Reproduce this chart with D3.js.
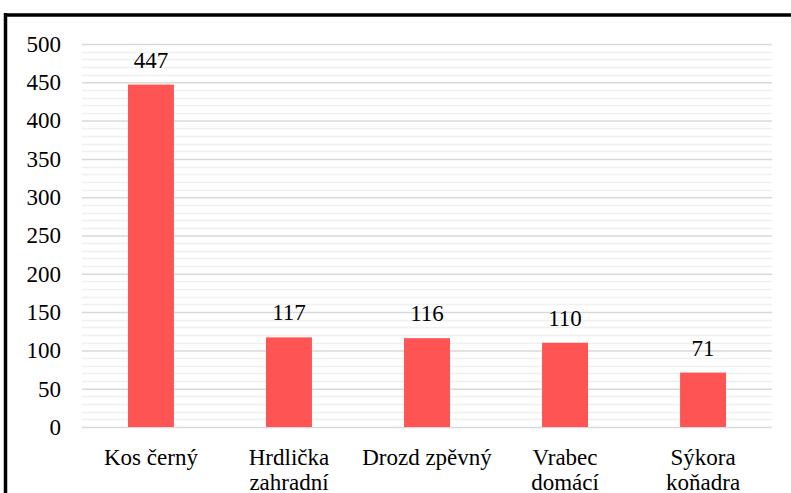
<!DOCTYPE html>
<html>
<head>
<meta charset="utf-8">
<script src="https://cdn.jsdelivr.net/npm/d3@7"></script>
<style>
  body { margin: 0; background: #fff; }
  svg { display: block; }
</style>
</head>
<body>
<svg width="791" height="493"></svg>
<script>
// bird counts
const categories = [["Kos černý"], ["Hrdlička", "zahradní"], ["Drozd zpěvný"], ["Vrabec", "domácí"], ["Sýkora", "koňadra"]];
const values = [447, 117, 116, 110, 71];
const yTicks = [0, 50, 100, 150, 200, 250, 300, 350, 400, 450, 500];

const FONT = "'Liberation Serif', serif";
const FS = "23px";

let svg = d3.select("svg");
let margin = { left: 82, right: 19, top: 44, bottom: 66 };
let width = 791, height = 493;

// frame (cropped chart border)
svg.append("line").attr("x1", 4).attr("x2", width).attr("y1", 15).attr("y2", 15)
  .attr("stroke", "#000").attr("stroke-width", 3.5);
svg.append("line").attr("x1", 5.5).attr("x2", 5.5).attr("y1", 13).attr("y2", height)
  .attr("stroke", "#000").attr("stroke-width", 3.5);

let x = d3.scaleBand()
  .domain(d3.range(values.length))
  .range([margin.left, width - margin.right])
  .paddingInner(0.667)
  .paddingOuter(0.333);

let y = d3.scaleLinear().domain([0, 500]).range([height - margin.bottom, margin.top]);

// minor gridlines every 10
let minor = d3.range(0, 501, 10).filter(v => v % 50 !== 0);
svg.append("g").selectAll("line").data(minor).enter().append("line")
  .attr("x1", margin.left).attr("x2", width - margin.right)
  .attr("y1", d => Math.round(y(d)) + 0.5).attr("y2", d => Math.round(y(d)) + 0.5)
  .attr("stroke", "#f0f0f0").attr("stroke-width", 1.5);

// major gridlines + tick labels
let axis = d3.axisLeft(y).tickValues(yTicks).tickSize(-(width - margin.left - margin.right)).tickPadding(21);
let ax = svg.append("g").attr("transform", `translate(${margin.left},0)`).call(axis);
ax.select(".domain").remove();
ax.selectAll(".tick line").attr("stroke", "#d9d9d9").attr("stroke-width", 1.5);
ax.selectAll(".tick text").attr("fill", "#000");

let g = svg.append("g");

// bars
g.selectAll("rect").data(values).enter().append("rect")
  .attr("x", (d, i) => x(i))
  .attr("y", d => y(d))
  .attr("width", x.bandwidth())
  .attr("height", d => y(0) - y(d))
  .attr("fill", "#ff5454");

// value labels
g.selectAll(".val").data(values).enter().append("text")
  .attr("class", "val")
  .attr("x", (d, i) => x(i) + x.bandwidth() / 2)
  .attr("y", d => y(d) - 17)
  .attr("text-anchor", "middle")
  .attr("fill", "#000")
  .text(d => d);

// category labels
let cat = g.selectAll(".cat").data(categories).enter().append("text")
  .attr("class", "cat")
  .attr("text-anchor", "middle")
  .attr("fill", "#000")
  .attr("transform", (d, i) => `translate(${x(i) + x.bandwidth() / 2},465)`);
cat.selectAll("tspan").data(d => d).enter().append("tspan")
  .attr("x", 0).attr("y", (d, i) => i * 25)
  .text(d => d);

// serif font, forced over any inherited rule
svg.selectAll("text")
  .style("font-family", FONT, "important")
  .style("font-size", FS, "important");
</script>
</body>
</html>
